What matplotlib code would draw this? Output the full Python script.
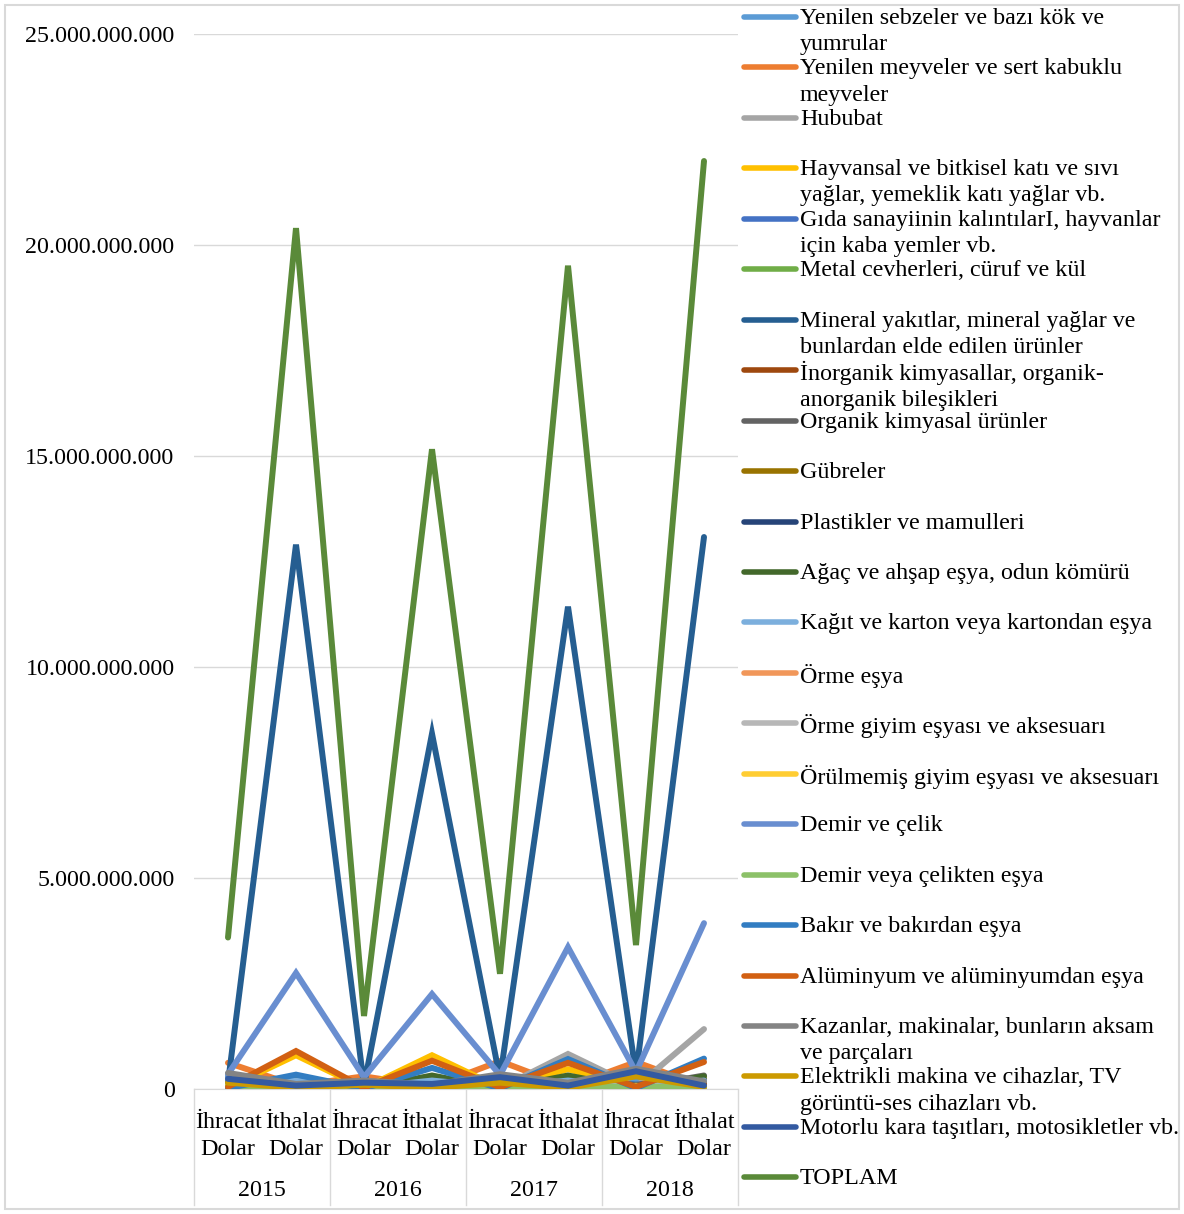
import matplotlib.pyplot as plt
from matplotlib.lines import Line2D
from matplotlib.patches import Rectangle
import matplotlib.transforms as mtransforms

plt.rcParams['font.family'] = ['Liberation Serif', 'DejaVu Serif']

# kategoriler
years = ['2015', '2016', '2017', '2018']
sub_labels = ['İhracat\nDolar', 'İthalat\nDolar'] * 4

series_names = [
    'Yenilen sebzeler ve bazı kök ve\nyumrular',
    'Yenilen meyveler ve sert kabuklu\nmeyveler',
    'Hububat',
    'Hayvansal ve bitkisel katı ve sıvı\nyağlar, yemeklik katı yağlar vb.',
    'Gıda sanayiinin kalıntılarI, hayvanlar\niçin kaba yemler vb.',
    'Metal cevherleri, cüruf ve kül',
    'Mineral yakıtlar, mineral yağlar ve\nbunlardan elde edilen ürünler',
    'İnorganik kimyasallar, organik-\nanorganik bileşikleri',
    'Organik kimyasal ürünler',
    'Gübreler',
    'Plastikler ve mamulleri',
    'Ağaç ve ahşap eşya, odun kömürü',
    'Kağıt ve karton veya kartondan eşya',
    'Örme eşya',
    'Örme giyim eşyası ve aksesuarı',
    'Örülmemiş giyim eşyası ve aksesuarı',
    'Demir ve çelik',
    'Demir veya çelikten eşya',
    'Bakır ve bakırdan eşya',
    'Alüminyum ve alüminyumdan eşya',
    'Kazanlar, makinalar, bunların aksam\nve parçaları',
    'Elektrikli makina ve cihazlar, TV\ngörüntü-ses cihazları vb.',
    'Motorlu kara taşıtları, motosikletler vb.',
    'TOPLAM',
]

colors = ['#5B9BD5', '#ED7D31', '#A5A5A5', '#FFC000', '#4472C4', '#70AD47',
          '#255E91', '#9E480E', '#636363', '#997300', '#264478', '#43682B',
          '#7CAFDD', '#F1975A', '#B7B7B7', '#FFCD33', '#698ED0', '#8CC168',
          '#327DC2', '#D26012', '#848484', '#CC9A00', '#335AA1', '#5A8A39']

# milyar dolar (2015 ihr, 2015 ith, 2016 ihr, ...)
yenilen_sebze = [0.30, 0.08, 0.06, 0.12, 0.12, 0.15, 0.18, 0.20]
yenilen_meyve = [0.62, 0.08, 0.30, 0.05, 0.66, 0.05, 0.64, 0.05]
hububat = [0.02, 0.30, 0.02, 0.20, 0.02, 0.83, 0.05, 1.42]
hayvansal = [0.03, 0.80, 0.02, 0.80, 0.03, 0.47, 0.03, 0.25]
gida = [0.01, 0.12, 0.01, 0.10, 0.01, 0.12, 0.01, 0.12]
metal_cevher = [0.01, 0.08, 0.00, 0.05, 0.00, 0.07, 0.00, 0.08]
mineral = [0.15, 12.90, 0.08, 8.42, 0.25, 11.43, 0.35, 13.08]
inorganik = [0.02, 0.10, 0.02, 0.08, 0.03, 0.10, 0.03, 0.12]
organik = [0.03, 0.15, 0.02, 0.12, 0.03, 0.28, 0.04, 0.32]
gubre = [0.01, 0.20, 0.00, 0.15, 0.00, 0.15, 0.00, 0.20]
plastik = [0.10, 0.20, 0.05, 0.15, 0.08, 0.20, 0.10, 0.22]
agac = [0.01, 0.28, 0.01, 0.32, 0.01, 0.32, 0.01, 0.30]
kagit = [0.05, 0.20, 0.03, 0.20, 0.05, 0.20, 0.05, 0.20]
orme_esya = [0.02, 0.00, 0.01, 0.00, 0.01, 0.00, 0.02, 0.00]
orme_giyim = [0.08, 0.00, 0.03, 0.00, 0.05, 0.00, 0.06, 0.00]
orulmemis = [0.10, 0.00, 0.04, 0.00, 0.06, 0.00, 0.08, 0.00]
demir_celik = [0.35, 2.75, 0.28, 2.25, 0.33, 3.36, 0.40, 3.93]
demir_esya = [0.08, 0.03, 0.04, 0.02, 0.05, 0.03, 0.06, 0.03]
bakir = [0.02, 0.34, 0.01, 0.50, 0.01, 0.71, 0.02, 0.72]
aluminyum = [0.05, 0.90, 0.03, 0.67, 0.04, 0.62, 0.05, 0.64]
kazanlar = [0.38, 0.12, 0.20, 0.10, 0.35, 0.15, 0.48, 0.18]
elektrikli = [0.15, 0.03, 0.10, 0.03, 0.15, 0.03, 0.30, 0.05]
motorlu = [0.24, 0.08, 0.15, 0.12, 0.28, 0.08, 0.42, 0.08]
toplam = [3.59, 20.40, 1.73, 15.16, 2.73, 19.51, 3.41, 21.99]

all_series = [yenilen_sebze, yenilen_meyve, hububat, hayvansal, gida, metal_cevher,
              mineral, inorganik, organik, gubre, plastik, agac, kagit, orme_esya,
              orme_giyim, orulmemis, demir_celik, demir_esya, bakir, aluminyum,
              kazanlar, elektrikli, motorlu, toplam]

W, H = 1184, 1214
FS = 17.3
fig = plt.figure(figsize=(W / 100, H / 100), dpi=100)
ax = fig.add_axes([194 / W, (H - 1089) / H, (738 - 194) / W, (1089 - 34) / H])

x = list(range(8))
for vals, c in zip(all_series, colors):
    ax.plot(x, [v * 1e9 for v in vals], color=c, lw=4.3, solid_joinstyle='miter',
            solid_capstyle='round', zorder=3)

ax.set_xlim(-0.5, 7.5)
ax.set_ylim(0, 25e9)
yt = [0, 5e9, 10e9, 15e9, 20e9, 25e9]
ax.set_yticks(yt)
ax.set_yticklabels([f'{int(v):,}'.replace(',', '.') for v in yt], fontsize=FS)
ax.tick_params(axis='y', length=0, pad=14)
ax.set_xticks([])
ax.grid(axis='y', color='#D9D9D9', lw=1)
ax.set_axisbelow(True)
for s in ['top', 'right', 'left']:
    ax.spines[s].set_visible(False)
ax.spines['bottom'].set_color('#D9D9D9')

# iki seviyeli x ekseni
tr = mtransforms.blended_transform_factory(ax.transData, ax.transAxes)
for i, lab in enumerate(sub_labels):
    ax.text(i, -0.022, lab, transform=tr, ha='center', va='top', fontsize=FS,
            linespacing=1.35)
for j, yr in enumerate(years):
    ax.text(2 * j + 0.5, -0.086, yr, transform=tr, ha='center', va='top', fontsize=FS)
for b in [-0.5, 1.5, 3.5, 5.5, 7.5]:
    ax.plot([b, b], [0, -0.11], transform=tr, color='#D9D9D9', lw=1, clip_on=False)

# lejant
for i, (name, c) in enumerate(zip(series_names, colors)):
    yy = 1 - (17 + 50.45 * i) / H
    fig.add_artist(Line2D([744 / W, 796 / W], [yy, yy], color=c, lw=4,
                          solid_capstyle='round'))
    fig.text(800 / W, yy + 9 / H, name, ha='left', va='top', fontsize=FS,
             linespacing=1.32)

fig.add_artist(Rectangle((5 / W, 5 / H), 1174 / W, 1204 / H, fill=False,
                         edgecolor='#D9D9D9', lw=1.5))

fig.savefig('out.png', dpi=100)
